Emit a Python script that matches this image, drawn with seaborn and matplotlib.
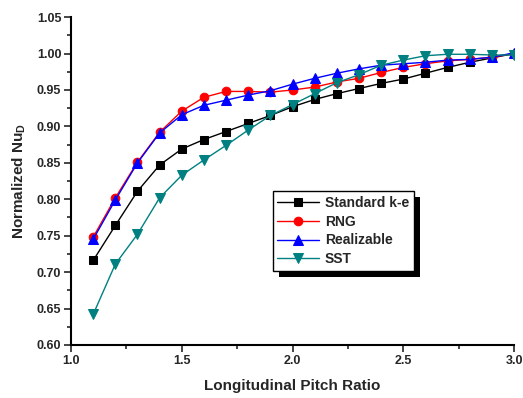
import numpy as np
import pandas as pd
import matplotlib
matplotlib.use("Agg")
import matplotlib.pyplot as plt
from matplotlib.patches import Rectangle
from matplotlib.ticker import MultipleLocator, FormatStrFormatter
import seaborn as sns

pitch = [1.1, 1.2, 1.3, 1.4, 1.5, 1.6, 1.7, 1.8, 1.9, 2.0,
         2.1, 2.2, 2.3, 2.4, 2.5, 2.6, 2.7, 2.8, 2.9, 3.0]
standard_ke = [0.716, 0.764, 0.811, 0.847, 0.869, 0.882, 0.893, 0.904, 0.915, 0.927,
               0.937, 0.945, 0.952, 0.959, 0.965, 0.973, 0.981, 0.988, 0.994, 1.000]
rng = [0.748, 0.802, 0.851, 0.892, 0.921, 0.940, 0.948, 0.948, 0.947, 0.950,
       0.954, 0.961, 0.966, 0.974, 0.981, 0.986, 0.990, 0.992, 0.995, 1.000]
realizable = [0.745, 0.799, 0.850, 0.891, 0.916, 0.929, 0.936, 0.943, 0.949, 0.958,
              0.966, 0.973, 0.979, 0.984, 0.986, 0.988, 0.991, 0.992, 0.995, 1.001]
sst = [0.642, 0.711, 0.752, 0.802, 0.833, 0.854, 0.874, 0.895, 0.915, 0.930,
       0.945, 0.960, 0.971, 0.984, 0.991, 0.997, 0.999, 0.999, 0.998, 0.998]

series_names = ["Standard k-e", "RNG", "Realizable", "SST"]
series_values = [standard_ke, rng, realizable, sst]
colors = ["#000000", "#ff0000", "#0000ff", "#008080"]
markers = ["s", "o", "^", "v"]
msizes = [5.5, 6.2, 6.5, 6.5]

sns.set_style("ticks")
plt.rcParams["font.family"] = ["Liberation Sans", "DejaVu Sans"]
plt.rcParams["font.weight"] = "bold"
plt.rcParams["mathtext.default"] = "regular"

fig = plt.figure(figsize=(5.23, 3.98), dpi=100)
ax = fig.add_axes([0.1358, 0.1332, 0.983 - 0.1358, 0.957 - 0.1332])

for name, vals, c, m, ms in zip(series_names, series_values, colors, markers, msizes):
    df = pd.DataFrame({"x": pitch, "y": vals})
    sns.lineplot(data=df, x="x", y="y", ax=ax, color=c, marker=m, markersize=ms,
                 markeredgecolor=c, linewidth=1, label=name)

ax.set_xlim(1.0, 3.0)
ax.set_ylim(0.60, 1.05)
ax.xaxis.set_major_locator(MultipleLocator(0.5))
ax.xaxis.set_minor_locator(MultipleLocator(0.25))
ax.yaxis.set_major_locator(MultipleLocator(0.05))
ax.yaxis.set_minor_locator(MultipleLocator(0.025))
ax.xaxis.set_major_formatter(FormatStrFormatter("%.1f"))
ax.yaxis.set_major_formatter(FormatStrFormatter("%.2f"))
ax.tick_params(which="major", direction="out", length=5, width=1.2, labelsize=9, pad=2)
ax.tick_params(which="minor", direction="out", length=3, width=1.2)
for lab in ax.get_xticklabels() + ax.get_yticklabels():
    lab.set_fontweight("bold")

for side in ["top", "right"]:
    ax.spines[side].set_visible(False)
for side in ["left", "bottom"]:
    ax.spines[side].set_linewidth(1.5)
    ax.spines[side].set_color("black")

ax.set_xlabel("Longitudinal Pitch Ratio", fontsize=11, fontweight="bold", labelpad=9)
ax.set_ylabel("Normalized Nu$_{D}$", fontsize=11, fontweight="bold", labelpad=6)

leg = ax.legend(loc="upper left", bbox_to_anchor=(0.455, 0.47), frameon=True,
                fancybox=False, edgecolor="black", framealpha=1,
                prop={"weight": "bold", "size": 10}, handlelength=3.0,
                handletextpad=0.4, borderpad=0.35, labelspacing=0.35,
                borderaxespad=0)
leg.get_frame().set_linewidth(1.0)
leg.set_zorder(10)

fig.canvas.draw()
bb = leg.get_window_extent()
inv = fig.transFigure.inverted()
(x0, y0), (x1, y1) = inv.transform([[bb.x0 + 6, bb.y0 - 6], [bb.x1 + 6, bb.y1 - 6]])
shadow = Rectangle((x0, y0), x1 - x0, y1 - y0, transform=fig.transFigure,
                   facecolor="black", edgecolor="none", zorder=9)
ax.add_artist(shadow)
shadow.set_clip_on(False)

fig.savefig("out.png", dpi=100)
